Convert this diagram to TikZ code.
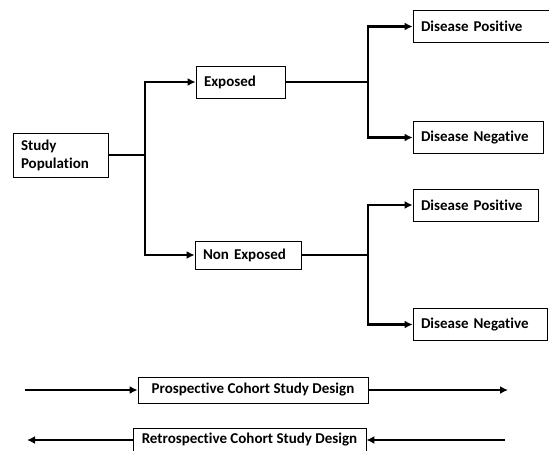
\documentclass[tikz,border=0pt]{standalone}
\usepackage{fontspec}
\setmainfont{Carlito}[Ligatures=NoCommon]
\usetikzlibrary{arrows.meta}

\begin{document}
\begin{tikzpicture}[x=1pt,y=-1pt,
	box/.style={draw, line width=0.8pt, font=\fontsize{15}{18}\selectfont\bfseries, align=left, inner xsep=8pt, inner ysep=0pt, minimum height=32pt},
	link/.style={line width=2.8pt},
	arr/.style={link, -{Latex[length=8pt,width=8pt]}}]
			\useasboundingbox (0,0) rectangle (549,450);
			\node[box, text width=79pt, minimum height=44pt] (pop) at (60.5,155) {Study\\Population};
			\node[box, text width=73pt] (exp) at (240.5,82) {Exposed};
			\node[box, text width=90pt, minimum height=28pt] (non) at (248,255) {Non Exposed};
			\node[box, text width=120pt] (dp1) at (481,26.5) {Disease Positive};
			\node[box, text width=114pt] (dn1) at (478,137.5) {Disease Negative};
			\node[box, text width=109pt] (dp2) at (475.5,205) {Disease Positive};
			\node[box, text width=118pt] (dn2) at (480,324.5) {Disease Negative};
			\node[box, minimum width=230pt, minimum height=26pt] (pro) at (253,390) {Prospective Cohort Study Design};
			\node[box, inner xsep=7pt, minimum width=233pt, minimum height=24pt] (ret) at (249.5,440) {Retrospective Cohort Study Design};
			\coordinate (j1) at (145,155);
			\coordinate (j2) at (368,82);
			\coordinate (j3) at (368,255);
			\coordinate (p0) at (25,390);
			\coordinate (p1) at (508,390);
			\coordinate (r0) at (27,440);
			\coordinate (r1) at (505,440);
			\draw[link] (pop) -- (j1);
			\draw[arr] (j1) |- (exp);
			\draw[arr] (j1) |- (non);
			\draw[link] (exp) -- (j2);
			\draw[arr] (j2) |- (dp1);
			\draw[arr] (j2) |- (dn1);
			\draw[link] (non) -- (j3);
			\draw[arr] (j3) |- (dp2);
			\draw[arr] (j3) |- (dn2);
			\draw[arr] (p0) -- (pro);
			\draw[arr] (pro) -- (p1);
			\draw[arr] (ret) -- (r0);
			\draw[arr] (r1) -- (ret);
		\end{tikzpicture}
\end{document}
